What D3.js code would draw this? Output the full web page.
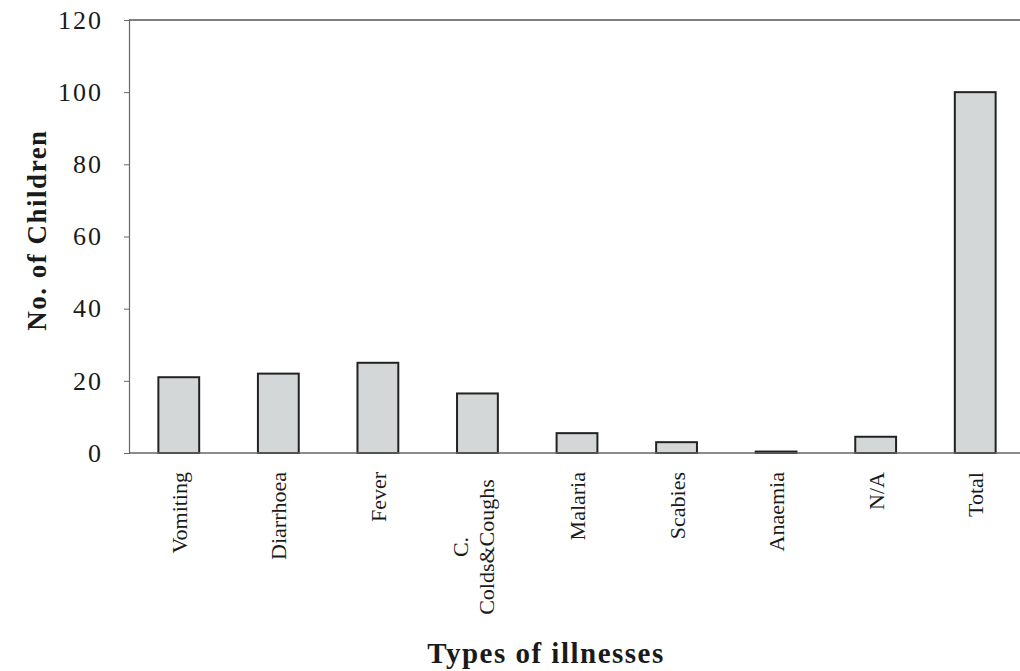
<meta charset="UTF-8">
<head>
  <script src="https://d3js.org/d3.v7.min.js"></script>
  <style>
    body { margin: 0; background: #fff; }
    text { font-family: "Liberation Serif", "Times New Roman", serif; fill: #1a1a1a; }
  </style>
</head>
<body>
  <svg id="svg" width="1020" height="671"></svg>
  <script>
    // categories and values
    const illnesses = ["Vomiting", "Diarrhoea", "Fever", "C. Colds&Coughs", "Malaria", "Scabies", "Anaemia", "N/A", "Total"];
    const children = [21, 22, 25, 16.5, 5.5, 3, 0.4, 4.5, 100];
    const yTicks = [0, 20, 40, 60, 80, 100, 120];

    const svg = d3.select("#svg");
    const plotLeft = 129, plotTop = 20, plotBottom = 453, plotRight = 1025;

    const x = d3.scaleBand().domain(illnesses).range([plotLeft, plotRight]).paddingInner(0.59).paddingOuter(0.295);
    const y = d3.scaleLinear().domain([0, 120]).range([plotBottom, plotTop]);

    // top frame line
    svg.append("line")
      .attr("x1", plotLeft).attr("x2", 1020)
      .attr("y1", y(120)).attr("y2", y(120))
      .attr("stroke", "#555").attr("stroke-width", 1.3);

    // bars
    svg.selectAll("rect.bar").data(illnesses).enter()
      .append("rect")
      .attr("class", "bar")
      .attr("x", d => x(d))
      .attr("width", x.bandwidth())
      .attr("y", (d, i) => y(children[i]))
      .attr("height", (d, i) => y(0) - y(children[i]))
      .attr("fill", "#d4d7d7")
      .attr("stroke", "#222")
      .attr("stroke-width", 2);

    // y axis
    const yAxis = svg.append("g")
      .attr("transform", `translate(${plotLeft},0)`)
      .call(d3.axisLeft(y).tickValues(yTicks).tickSize(5).tickPadding(21));
    yAxis.select(".domain").attr("stroke", "#666").attr("stroke-width", 1.2);
    yAxis.selectAll(".tick line").attr("stroke", "#666");
    yAxis.selectAll(".tick text")
      .style("font-family", "Liberation Serif, serif")
      .style("font-size", "26px")
      .style("letter-spacing", "2px")
      .attr("fill", "#2a2a2a");
    yAxis.selectAll(".tick").filter(d => d === 0).select("line").remove();

    // x baseline
    svg.append("line")
      .attr("x1", plotLeft).attr("x2", 1020)
      .attr("y1", y(0)).attr("y2", y(0))
      .attr("stroke", "#666").attr("stroke-width", 1.3);

    // x labels, rotated
    const lab = svg.selectAll("g.xlab").data(illnesses).enter()
      .append("g")
      .attr("class", "xlab")
      .attr("transform", d => `translate(${x(d) + x.bandwidth() / 2},472) rotate(-90)`);

    lab.each(function (d) {
      const g = d3.select(this);
      if (d.startsWith("C. ")) {
        const lines = ["C.", "Colds&Coughs"];
        g.append("text").attr("x", -75).attr("y", -9).attr("text-anchor", "middle")
          .style("font-size", "22px").text(lines[0]);
        g.append("text").attr("x", -75).attr("y", 17).attr("text-anchor", "middle")
          .style("font-size", "22px").text(lines[1]);
      } else {
        g.append("text").attr("x", 0).attr("y", 8).attr("text-anchor", "end")
          .style("font-size", "22px").text(d);
      }
    });

    // axis titles
    svg.append("text")
      .attr("transform", "translate(46,230) rotate(-90)")
      .attr("text-anchor", "middle")
      .style("font-size", "27px").style("font-weight", "bold")
      .style("letter-spacing", "1.5px")
      .text("No. of Children");

    svg.append("text")
      .attr("x", 546).attr("y", 663)
      .attr("text-anchor", "middle")
      .style("font-size", "29px").style("font-weight", "bold")
      .style("letter-spacing", "1.5px")
      .text("Types of illnesses");
  </script>
</body>
